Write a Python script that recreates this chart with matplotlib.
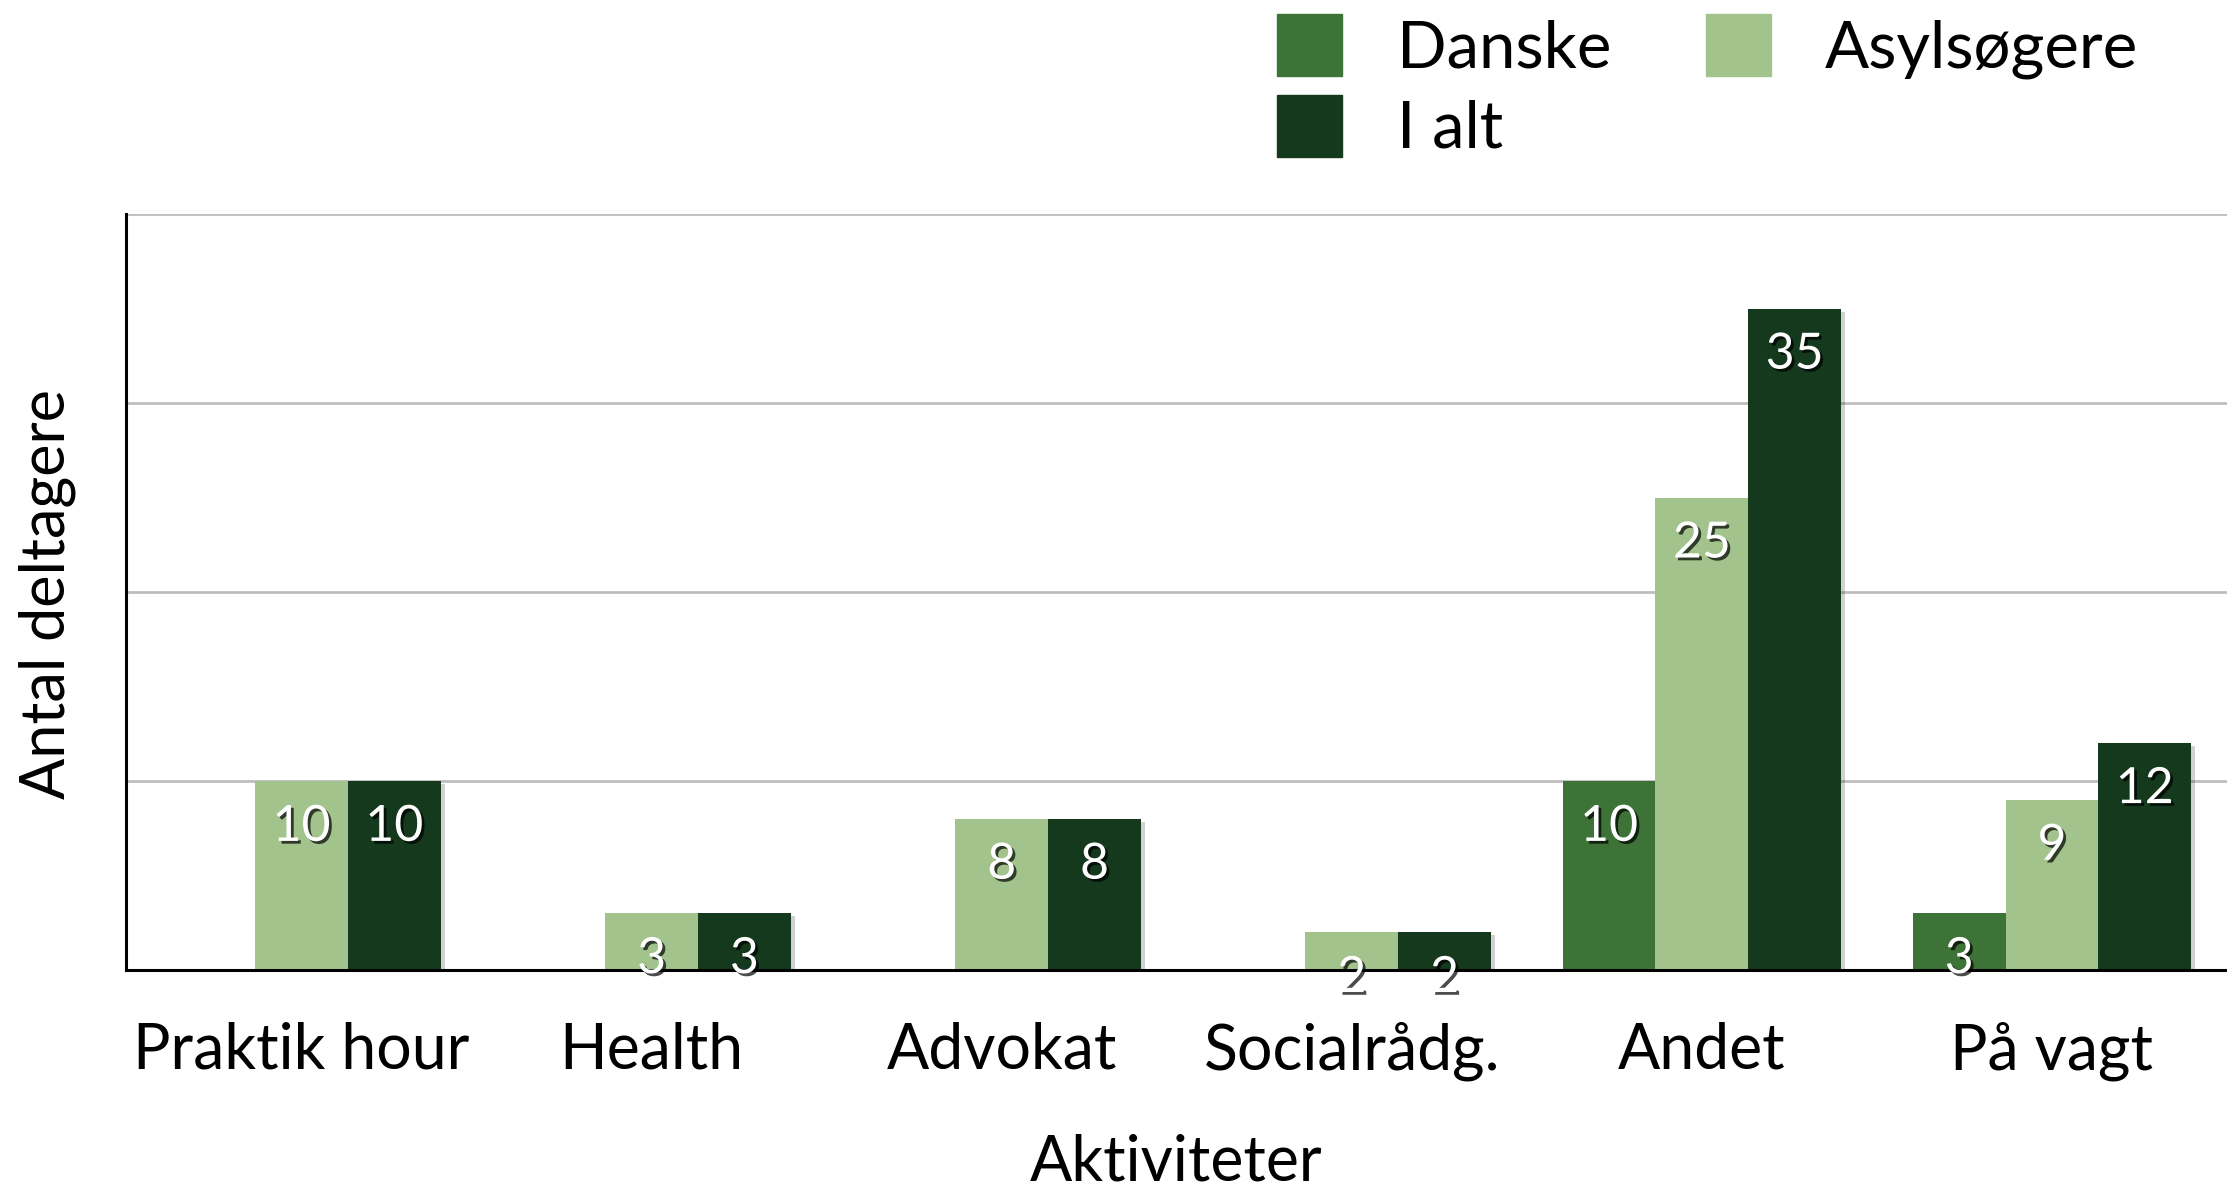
import numpy as np
import matplotlib
matplotlib.use("Agg")
import matplotlib.pyplot as plt
import matplotlib.patheffects as pe
from matplotlib.patches import Patch

categories = ["Praktik hour", "Health", "Advokat", "Socialrådg.", "Andet", "På vagt"]
series_names = ["Danske", "Asylsøgere", "I alt"]
danske = [0, 0, 0, 0, 10, 3]
asyl = [10, 3, 8, 2, 25, 9]
i_alt = [10, 3, 8, 2, 35, 12]
colors = ["#3E7337", "#A2C48C", "#14391C"]

MAIN = ["Lato", "DejaVu Sans"]


def main():
    fig = plt.figure(figsize=(22.27, 11.9), dpi=100)
    ax = fig.add_axes([0.0568, 0.1849, 0.9432, 0.635])

    x = np.arange(len(categories))
    w = 0.265
    bar_shadow = [pe.SimplePatchShadow(offset=(3, -2), shadow_rgbFace="black", alpha=0.18), pe.Normal()]
    txt_shadow = [pe.SimplePatchShadow(offset=(2, -2), shadow_rgbFace="black", alpha=0.7), pe.Normal()]

    for k, vals in enumerate([danske, asyl, i_alt]):
        bars = ax.bar(x + (k - 1) * w, vals, width=w, color=colors[k], zorder=3,
                      label=series_names[k])
        for b in bars:
            b.set_path_effects(bar_shadow)
        for xi, v in zip(x + (k - 1) * w, vals):
            if v == 0:
                continue
            ax.annotate(str(v), (xi, v), xytext=(0, -33), textcoords="offset points",
                        ha="center", va="center", color="white", fontsize=36,
                        family=MAIN, zorder=5, annotation_clip=False,
                        path_effects=txt_shadow)

    ax.set_xlim(-0.5, len(categories) - 0.5)
    ax.set_ylim(0, 40)
    ax.set_yticks([0, 10, 20, 30, 40])
    ax.set_yticklabels([])
    ax.tick_params(axis="y", length=0)
    ax.tick_params(axis="x", length=0, pad=37)
    ax.set_xticks(x)
    ax.set_xticklabels(categories, fontsize=45, family=MAIN)
    ax.grid(axis="y", color="#BEBEBE", linewidth=2, zorder=0)
    ax.set_axisbelow(True)
    for s in ["top", "right"]:
        ax.spines[s].set_visible(False)
    for s in ["left", "bottom"]:
        ax.spines[s].set_linewidth(2.2)
        ax.spines[s].set_zorder(4)

    fig.text(0.528, 0.023, "Aktiviteter", ha="center", va="center", fontsize=45, family=MAIN)
    fig.text(0.021, 0.501, "Antal deltagere", ha="center", va="center", rotation=90,
             fontsize=44, family=MAIN)

    handles = [Patch(color=colors[0]), Patch(color=colors[2]), Patch(color=colors[1])]
    labels = [series_names[0], series_names[2], series_names[1]]
    fig.legend(handles, labels, ncol=2, loc="upper left", bbox_to_anchor=(0.5735, 0.988),
               frameon=False, borderpad=0, borderaxespad=0, handlelength=1.0,
               handleheight=1.08, handletextpad=0.83, columnspacing=1.45,
               labelspacing=0.25, prop={"family": MAIN, "size": 47})

    fig.savefig("out.png", dpi=100)


if __name__ == "__main__":
    main()
